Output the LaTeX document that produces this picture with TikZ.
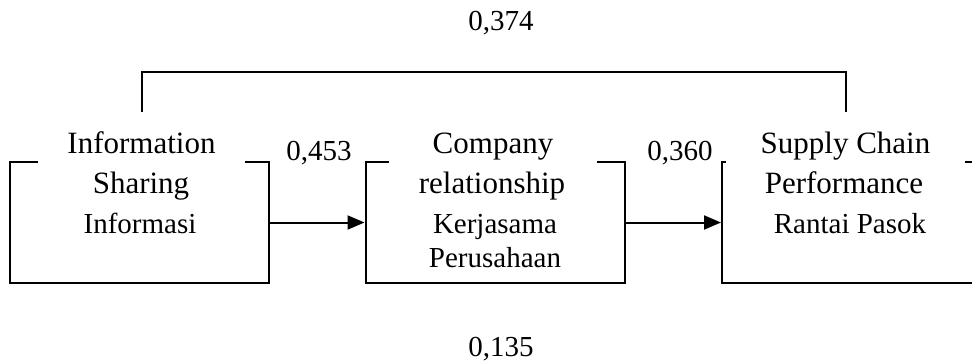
\documentclass[tikz,border=0pt]{standalone}
\usepackage{fontspec}
\setmainfont{Liberation Serif}
\usetikzlibrary{arrows.meta}
\begin{document}
\begin{tikzpicture}[x=1pt, y=-1pt, line width=2pt,
  varbox/.style={draw, minimum width=259pt, minimum height=121pt, inner sep=0pt},
  vartitle/.style={fill=white, inner sep=0pt, text height=40pt, text depth=12pt, font=\fontsize{31}{38}\selectfont},
  varline/.style={inner sep=0pt, font=\fontsize{31}{38}\selectfont},
  varsub/.style={inner sep=0pt, font=\fontsize{29}{34}\selectfont},
  coef/.style={inner sep=0pt, font=\fontsize{29}{34}\selectfont},
  link/.style={-{Triangle[length=17pt, width=14pt]}}]
  \useasboundingbox (0,0) rectangle (972,362);
  \clip (0,0) rectangle (972,362);
  \node[varbox] (is) at (139.5,222.5) {};
  \node[varbox] (cr) at (495,222.5) {};
  \node[varbox] (scp) at (851.5,222.5) {};
  \node[vartitle, minimum width=207pt, anchor=base] (ist) at (141.5,153) {Information};
  \node[vartitle, minimum width=208pt, anchor=base] (crt) at (493,153) {Company};
  \node[vartitle, minimum width=239pt, anchor=base] (scpt) at (845.5,153) {Supply Chain};
  \node[varline, anchor=base] (isl) at (141,193) {Sharing};
  \node[varline, anchor=base] (crl) at (492,193) {relationship};
  \node[varline, anchor=base] (scpl) at (844,193) {Performance};
  \node[varsub, anchor=base] (iss) at (140,233) {Informasi};
  \node[varsub, anchor=base] (crs) at (495,233) {Kerjasama};
  \node[varsub, anchor=base] (crs2) at (495,267) {Perusahaan};
  \node[varsub, anchor=base] (scps) at (850,233) {Rantai Pasok};
  \coordinate (top) at (495,72);
  \draw (ist.north) |- (top) -| (scpt.north);
  \draw[link] (is.east) -- (cr.west);
  \draw[link] (cr.east) -- (scp.west);
  \node[coef, anchor=base] (c1) at (501,30) {0,374};
  \node[coef, anchor=base] (c2) at (319,160) {0,453};
  \node[coef, anchor=base] (c3) at (680,160) {0,360};
  \node[coef, anchor=base] (c4) at (501,356) {0,135};
\end{tikzpicture}
\end{document}
